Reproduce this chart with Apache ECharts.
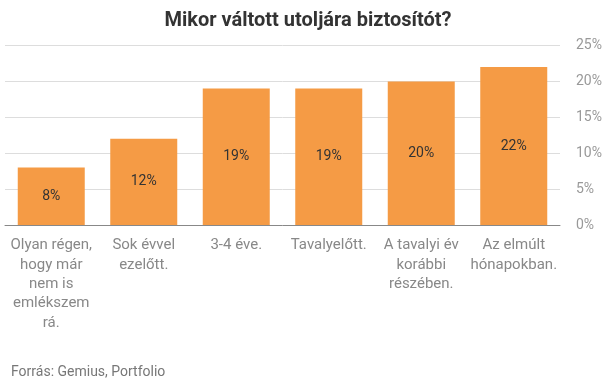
<!DOCTYPE html>
<html><head><meta charset="utf-8">
<script src="https://cdn.jsdelivr.net/npm/echarts@6/dist/echarts.min.js"></script>
<style>html,body{margin:0;padding:0;background:#fff}#c{width:605px;height:378px}</style>
</head><body><div id="c"></div>
<script>
const categories = [
  "Olyan régen,\nhogy már\nnem is\nemlékszem\nrá.",
  "Sok évvel\nezelőtt.",
  "3-4 éve.",
  "Tavalyelőtt.",
  "A tavalyi év\nkorábbi\nrészében.",
  "Az elmúlt\nhónapokban."
];
const values = [8, 12, 19, 19, 20, 22];
const yTicks = [0, 5, 10, 15, 20, 25];

const chart = echarts.init(document.getElementById('c'), null, {renderer: 'canvas'});
chart.setOption({
  animation: false,
  title: [{
    text: 'Mikor váltott utoljára biztosítót?',
    left: 303, top: 6, textAlign: 'center',
    textStyle: {fontFamily: 'Roboto', fontWeight: 'bold', fontSize: 20, color: '#333'}
  }, {
    text: 'Forrás: Gemius, Portfolio',
    left: 6, top: 360,
    textStyle: {fontFamily: 'Roboto', fontWeight: 'normal', fontSize: 14, color: '#777'}
  }],
  grid: {left: 5, right: 45, top: 45.5, bottom: 153, containLabel: false},
  xAxis: {
    type: 'category', data: categories,
    axisLine: {lineStyle: {color: '#888', width: 1}},
    axisTick: {show: false},
    axisLabel: {interval: 0, color: '#888', fontFamily: 'Roboto', fontSize: 15, lineHeight: 19.3, margin: 11}
  },
  yAxis: {
    type: 'value', position: 'right', min: yTicks[0], max: yTicks[yTicks.length-1], interval: 5,
    axisLine: {show: false}, axisTick: {show: false},
    splitLine: {lineStyle: {color: '#ddd', width: 1}},
    axisLabel: {formatter: '{value}%', color: '#999', fontFamily: 'Roboto', fontSize: 14, margin: 16}
  },
  series: [{
    type: 'bar', data: values, barWidth: 67,
    itemStyle: {color: '#F59B45'},
    label: {show: true, position: 'inside', formatter: '{c}%', color: '#333', fontFamily: 'Roboto', fontSize: 14}
  }]
});
</script></body></html>
